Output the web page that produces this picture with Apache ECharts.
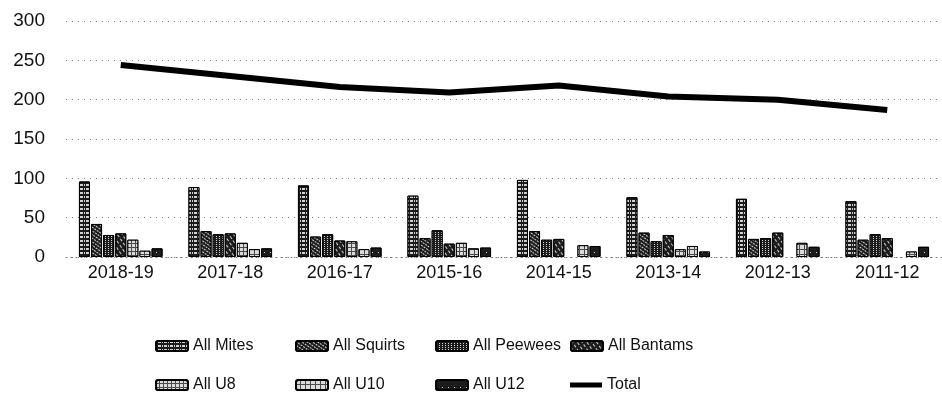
<!DOCTYPE html>
<html>
<head>
<meta charset="utf-8">
<script src="https://cdn.jsdelivr.net/npm/echarts@6/dist/echarts.min.js"></script>
<style>
  html, body { margin: 0; padding: 0; background: #fff; }
  #chart { width: 942px; height: 400px; }
</style>
</head>
<body>
<div id="chart"></div>
<script>
const seasons = ["2018-19", "2017-18", "2016-17", "2015-16", "2014-15", "2013-14", "2012-13", "2011-12"];
const yTicks = [0, 50, 100, 150, 200, 250, 300];

const allMites = [96, 89, 91, 78, 98, 76, 74, 71];
const allSquirts = [42, 33, 26, 24, 33, 31, 23, 22];
const allPeewees = [28, 29, 29, 34, 22, 20, 24, 29];
const allBantams = [30, 30, 21, 17, 23, 28, 31, 24];
const allU8 = [22, 18, 20, 18, null, 10, null, null];
const allU10 = [8, 10, 10, 11, 15, 14, 18, 7];
const allU12 = [11, 11, 12, 12, 14, 7, 13, 13];
const total = [244, 230, 216, 209, 218, 204, 200, 187];

const barNames = ["All Mites", "All Squirts", "All Peewees", "All Bantams", "All U8", "All U10", "All U12"];
const barData = [allMites, allSquirts, allPeewees, allBantams, allU8, allU10, allU12];

// white hatch patterns over dark bars, one per series
const decals = [
  { dashArrayX: [[1, 1, 3, 1]], dashArrayY: [2, 2], rotation: 0 },
  { dashArrayX: [[2, 1]], dashArrayY: [1, 2], rotation: 0.6 },
  { dashArrayX: [[1, 2]], dashArrayY: [1, 1], rotation: 0 },
  { dashArrayX: [[1, 3]], dashArrayY: [3, 2], rotation: -0.6 },
  { dashArrayX: [[3, 1]], dashArrayY: [3, 1], rotation: 0 },
  { dashArrayX: [[4, 1]], dashArrayY: [4, 1], rotation: 0 },
  { dashArrayX: [[1, 5]], dashArrayY: [1, 6], rotation: 0 }
];

const textColor = "#111";
const fontFamily = "Liberation Sans, Arial, sans-serif";

const chart = echarts.init(document.getElementById("chart"));

const series = barNames.map((name, i) => ({
  name,
  type: "bar",
  data: barData[i],
  barWidth: 11,
  barGap: "10%",
  itemStyle: {
    color: i === 4 || i === 5 ? "#4a4a4a" : "#1c1c1c",
    borderColor: "#000",
    borderWidth: 1,
    decal: Object.assign({ symbol: "rect", symbolSize: 1, color: "rgba(255,255,255,0.8)" }, decals[i])
  }
}));

series.push({
  name: "Total",
  type: "line",
  data: total,
  symbol: "none",
  z: 5,
  lineStyle: { color: "#000", width: 6 },
  itemStyle: { color: "#000" }
});

const legendCols = [155, 295, 435, 570];
const legendRows = [338, 377];
const legendNames = barNames.concat(["Total"]);
const legends = legendNames.map((name, i) => {
  const isLine = name === "Total";
  return {
    data: [isLine ? { name, icon: "rect" } : name],
    left: legendCols[i % 4],
    top: legendRows[Math.floor(i / 4)],
    padding: 0,
    itemWidth: 32,
    itemHeight: isLine ? 5 : 10,
    itemGap: 4,
    textStyle: { color: textColor, fontSize: 16, fontFamily }
  };
});

chart.setOption({
  animation: false,
  grid: { left: 66, right: 0, top: 21, bottom: 143 },
  legend: legends,
  xAxis: {
    type: "category",
    data: seasons,
    axisLine: { lineStyle: { color: "#777", type: [1, 4], width: 1 } },
    axisTick: { show: false },
    axisLabel: { color: textColor, fontSize: 18, fontFamily, margin: 7 }
  },
  yAxis: {
    type: "value",
    min: yTicks[0],
    max: yTicks[yTicks.length - 1],
    interval: 50,
    axisLine: { show: false },
    axisTick: { show: false },
    axisLabel: { color: textColor, fontSize: 19, fontFamily, margin: 21 },
    splitLine: { lineStyle: { color: "#888", type: [1, 5], width: 1 } }
  },
  series
});
</script>
</body>
</html>
